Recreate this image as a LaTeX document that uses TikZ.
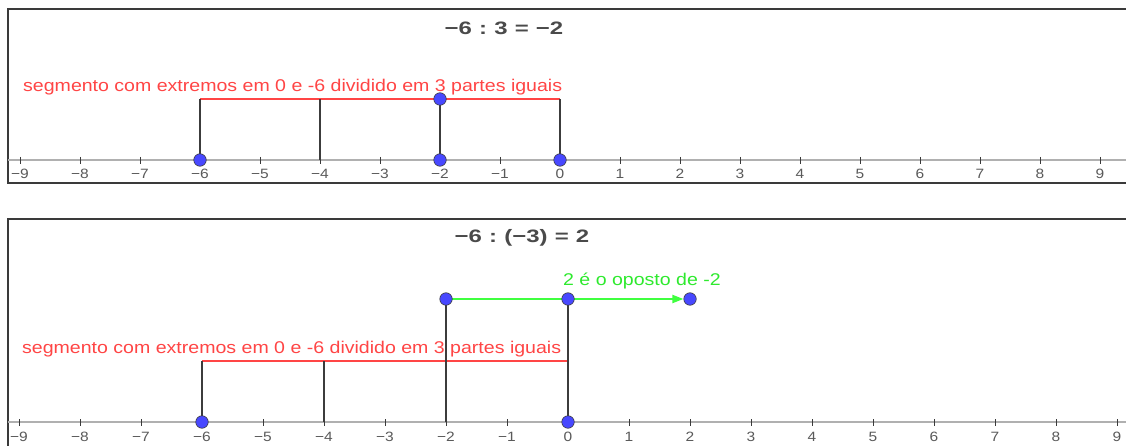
\documentclass[tikz,border=0pt]{standalone}
\usepackage{fontspec}
\setmainfont{Liberation Sans}
\newfontfamily\lab[FakeStretch=1.15]{Liberation Sans}
\usetikzlibrary{arrows.meta}
\definecolor{axgray}{HTML}{B0B0B0}
\definecolor{frm}{HTML}{3A3A3A}
\definecolor{tickc}{HTML}{5A5A5A}
\definecolor{titlec}{HTML}{4A4A4A}
\definecolor{segred}{HTML}{FF4545}
\definecolor{grnline}{HTML}{40FF40}
\definecolor{grntext}{HTML}{2EEA2E}
\definecolor{dotblue}{HTML}{4848FF}
\definecolor{stick}{HTML}{3C3C3C}
\newcommand{\tsp}{\hspace{0.3em}}
\begin{document}
\begin{tikzpicture}[x=1pt,y=-1pt,
  frame/.style={draw=frm,line width=1.8pt},
  axisline/.style={draw=axgray,line width=1.8pt},
  tickmark/.style={draw=frm,line width=0.8pt},
  ticklab/.style={anchor=base,text=tickc,font=\lab\fontsize{13.5}{15}\selectfont,inner sep=0pt},
  stickline/.style={draw=stick,line width=1.8pt},
  segline/.style={draw=segred,line width=2pt},
  grnarrow/.style={draw=grnline,line width=2pt,-{Triangle[length=11pt,width=8pt]}},
  dot/.style={circle,fill=dotblue,draw=frm,line width=0.6pt,minimum size=12.5pt,inner sep=0pt},
  seglab/.style={anchor=base west,text=segred,font=\lab\fontsize{17}{20}\selectfont,inner sep=0pt},
  grnlab/.style={anchor=base west,text=grntext,font=\lab\fontsize{17}{20}\selectfont,inner sep=0pt},
  titlelab/.style={anchor=base,text=titlec,font=\bfseries\fontsize{18}{22}\selectfont,inner sep=0pt}
]
\clip (0,0) rectangle (1126,446);
\fill[white] (0,0) rectangle (1126,446);

% ================= top panel =================
\draw[frame] (8,9) rectangle (1150,183);
\draw[axisline] (8,160) -- (1130,160);
\foreach \i/\t in {-9/−9,-8/−8,-7/−7,-6/−6,-5/−5,-4/−4,-3/−3,-2/−2,-1/−1,0/0,1/1,2/2,3/3,4/4,5/5,6/6,7/7,8/8,9/9}{
  \coordinate (ka\i) at ({560+60*\i},157);
  \coordinate (kb\i) at ({560+60*\i},164);
  \draw[tickmark] (ka\i) -- (kb\i);
  \node[ticklab] (ta\i) at ({560+60*\i},179) {\t};
}
\node[titlelab] (title1) at (504,35) {\scalebox{1.33}[1]{−6\tsp:\tsp3\tsp=\tsp−2}};
\node[seglab] (lab1) at (23,92) {segmento com extremos em 0 e -6 dividido em 3 partes iguais};

\coordinate (a-6) at (200,160);
\coordinate (a-4) at (320,160);
\coordinate (a-2) at (440,160);
\coordinate (a0) at (560,160);
\coordinate (u-6) at (200,99);
\coordinate (u-4) at (320,99);
\coordinate (u-2) at (440,99);
\coordinate (u0) at (560,99);

\draw[segline] (u-6) -- (u0);
\draw[stickline] (a-6) -- (u-6);
\draw[stickline] (a-4) -- (u-4);
\draw[stickline] (a-2) -- (u-2);
\draw[stickline] (a0) -- (u0);

\node[dot] (da-6) at (a-6) {};
\node[dot] (da-2) at (a-2) {};
\node[dot] (da0) at (a0) {};
\node[dot] (du-2) at (u-2) {};

% ================= bottom panel =================
\draw[frame] (8,219) rectangle (1150,470);
\draw[axisline] (8,422) -- (1130,422);
\foreach \i/\t in {-9/−9,-8/−8,-7/−7,-6/−6,-5/−5,-4/−4,-3/−3,-2/−2,-1/−1,0/0,1/1,2/2,3/3,4/4,5/5,6/6,7/7,8/8,9/9}{
  \coordinate (kc\i) at ({568+61*\i},419);
  \coordinate (kd\i) at ({568+61*\i},426);
  \draw[tickmark] (kc\i) -- (kd\i);
  \node[ticklab] (tb\i) at ({568+61*\i},441) {\t};
}
\node[titlelab] (title2) at (522,243) {\scalebox{1.33}[1]{−6\tsp:\tsp(−3)\tsp=\tsp2}};
\node[seglab] (lab2) at (22,353) {segmento com extremos em 0 e -6 dividido em 3 partes iguais};
\node[grnlab] (lab3) at (563,285) {2 é o oposto de -2};

\coordinate (b-6) at (202,422);
\coordinate (b-4) at (324,422);
\coordinate (b-2) at (446,422);
\coordinate (b0) at (568,422);
\coordinate (r-6) at (202,361);
\coordinate (r-4) at (324,361);
\coordinate (r0) at (568,361);
\coordinate (g-2) at (446,299);
\coordinate (g0) at (568,299);
\coordinate (g2) at (690,299);

\draw[segline] (r-6) -- (r0);
\draw[stickline] (b-6) -- (r-6);
\draw[stickline] (b-4) -- (r-4);
\draw[stickline] (b-2) -- (g-2);
\draw[stickline] (b0) -- (g0);

\node[dot] (dg2) at (g2) {};
\draw[grnarrow] (g-2) -- (dg2);
\node[dot] (db-6) at (b-6) {};
\node[dot] (db0) at (b0) {};
\node[dot] (dg-2) at (g-2) {};
\node[dot] (dg0) at (g0) {};
\end{tikzpicture}
\end{document}
